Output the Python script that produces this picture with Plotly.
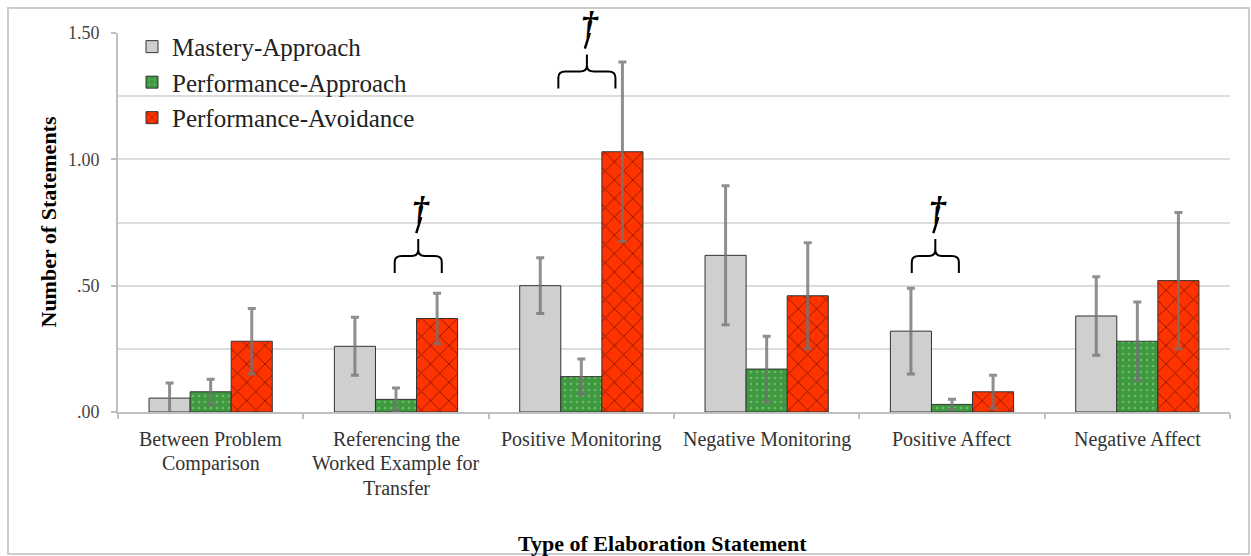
import plotly.graph_objects as go

# Elaboration statement categories (x-axis labels, <br> marks line breaks)
categories = [
    "Between Problem<br>Comparison",
    "Referencing the<br>Worked Example for<br>Transfer",
    "Positive Monitoring",
    "Negative Monitoring",
    "Positive Affect",
    "Negative Affect",
]

# Mean number of statements per goal-orientation group
mastery_approach = [0.055, 0.26, 0.50, 0.62, 0.32, 0.38]
performance_approach = [0.08, 0.05, 0.14, 0.17, 0.03, 0.28]
performance_avoidance = [0.28, 0.37, 1.03, 0.46, 0.08, 0.52]

# Standard errors
mastery_approach_se = [0.06, 0.115, 0.11, 0.275, 0.17, 0.155]
performance_approach_se = [0.05, 0.045, 0.07, 0.13, 0.02, 0.155]
performance_avoidance_se = [0.13, 0.10, 0.355, 0.21, 0.065, 0.27]

# Y-axis ticks
y_tick_vals = [0.0, 0.5, 1.0, 1.5]
y_tick_text = [".00", ".50", "1.00", "1.50"]

# Marginal significance markers: category position of brace centre, half width, base height
sig_centers = [1.12, 2.03, 3.91]
sig_half_widths = [0.127, 0.154, 0.127]
sig_bases = [0.55, 1.28, 0.55]

SERIF = "Liberation Serif"
Y_MAX = 1.5
x_pos = list(range(len(categories)))

fig = go.Figure()

series = [
    ("Mastery-Approach", mastery_approach, mastery_approach_se,
     dict(color="#cfcfcf")),
    ("Performance-Approach", performance_approach, performance_approach_se,
     dict(color="#3e9a3e",
          pattern=dict(shape=".", fgcolor="#a6d6a6", bgcolor="#3e9a3e",
                       size=6, solidity=0.15))),
    ("Performance-Avoidance", performance_avoidance, performance_avoidance_se,
     dict(color="#ff3300",
          pattern=dict(shape="x", fgcolor="#1a0000", bgcolor="#ff3300",
                       size=13, solidity=0.14))),
]

for name, vals, se, marker in series:
    marker = dict(marker)
    marker["line"] = dict(color="#333333", width=1)
    fig.add_trace(go.Bar(
        name=name, x=x_pos, y=vals, marker=marker, legendgroup=name,
        error_y=dict(type="data", array=se, visible=True,
                     color="rgba(115,115,115,0.8)", thickness=3, width=4),
    ))

# x tick labels, one annotation per text line for Excel-like spacing
annotations = []
for i, label in enumerate(categories):
    for j, line in enumerate(label.split("<br>")):
        annotations.append(dict(
            x=i, y=0, xref="x", yref="y", text=line, showarrow=False,
            yanchor="middle", yshift=-27 - 24.5 * j,
            font=dict(family=SERIF, size=20, color="#333333"),
        ))

# axis titles
annotations.append(dict(
    x=(662 - 118) / 1112, y=(412 - 543) / 379, xref="paper", yref="paper",
    text="<b>Type of Elaboration Statement</b>", showarrow=False,
    xanchor="center", yanchor="middle",
    font=dict(family=SERIF, size=22, color="#000000"),
))
annotations.append(dict(
    x=(48 - 118) / 1112, y=0.5, xref="paper", yref="paper",
    text="<b>Number of Statements</b>", showarrow=False, textangle=-90,
    xanchor="center", yanchor="middle",
    font=dict(family=SERIF, size=22, color="#000000"),
))

# braces and daggers for marginally significant contrasts
shapes = []
px_x = 1112 / 6.0   # pixels per category
px_y = 379 / Y_MAX  # pixels per unit
for c, hw, yb in zip(sig_centers, sig_half_widths, sig_bases):
    x0, x1 = c - hw, c + hw
    ym = yb + 17 / px_y
    yt = ym + 17 / px_y
    rx = 7 / px_x
    ry = 6 / px_y
    path = (
        f"M {x0},{yb} L {x0},{ym - ry} Q {x0},{ym} {x0 + rx},{ym} "
        f"L {c - rx},{ym} Q {c},{ym} {c},{ym + ry} L {c},{yt} "
        f"M {c},{ym + ry} Q {c},{ym} {c + rx},{ym} "
        f"L {x1 - rx},{ym} Q {x1},{ym} {x1},{ym - ry} L {x1},{yb}"
    )
    shapes.append(dict(type="path", path=path, xref="x", yref="y",
                       line=dict(color="#000000", width=2)))
    # slanted dagger stem rising from the brace tip
    shapes.append(dict(type="line", xref="x", yref="y",
                       x0=c - 2 / px_x, y0=yt + 6 / px_y,
                       x1=c + 3 / px_x, y1=yt + 22 / px_y,
                       line=dict(color="#000000", width=2.5)))
    annotations.append(dict(
        x=c + 3 / px_x, y=(yt + 31 / px_y) / Y_MAX, xref="x", yref="paper",
        text="<b><i>†</i></b>", showarrow=False, yanchor="middle",
        font=dict(family=SERIF, size=34, color="#000000"),
    ))

# light frame around the whole figure
shapes.append(dict(
    type="rect", xref="paper", yref="paper", layer="below",
    x0=(8 - 118) / 1112, x1=(1249 - 118) / 1112,
    y0=(412 - 554) / 379, y1=(412 - 8) / 379,
    line=dict(color="#cccccc", width=2), fillcolor="rgba(0,0,0,0)",
))

fig.update_layout(
    width=1251, height=556,
    margin=dict(l=118, r=21, t=33, b=144, autoexpand=False),
    paper_bgcolor="#ffffff", plot_bgcolor="#ffffff",
    barmode="group", bargap=0.335, bargroupgap=0,
    font=dict(family=SERIF, color="#222222"),
    showlegend=True,
    legend=dict(
        x=(132 - 118) / 1112, y=1.024, xanchor="left", yanchor="top",
        bgcolor="rgba(0,0,0,0)", font=dict(family=SERIF, size=25, color="#222222"),
        tracegroupgap=0, itemclick=False,
    ),
    xaxis=dict(
        range=[-0.5, 5.5], showgrid=False, zeroline=False,
        showline=True, linecolor="#bfbfbf", linewidth=2,
        tickvals=[i - 0.5 for i in range(len(categories) + 1)],
        showticklabels=False, ticks="outside", ticklen=5,
        tickcolor="#bfbfbf", tickwidth=2,
    ),
    yaxis=dict(
        range=[0, Y_MAX], tickvals=y_tick_vals, ticktext=y_tick_text,
        showgrid=True, gridcolor="#dddddd", gridwidth=2, zeroline=False,
        showline=True, linecolor="#bfbfbf", linewidth=2,
        ticks="outside", ticklen=5, tickcolor="#bfbfbf", tickwidth=2,
        ticklabelstandoff=8,
        tickfont=dict(family=SERIF, size=18, color="#444444"),
        minor=dict(dtick=0.25, showgrid=True, gridcolor="#dddddd", gridwidth=2),
    ),
    shapes=shapes,
    annotations=annotations,
)

fig.write_html("out.html")
